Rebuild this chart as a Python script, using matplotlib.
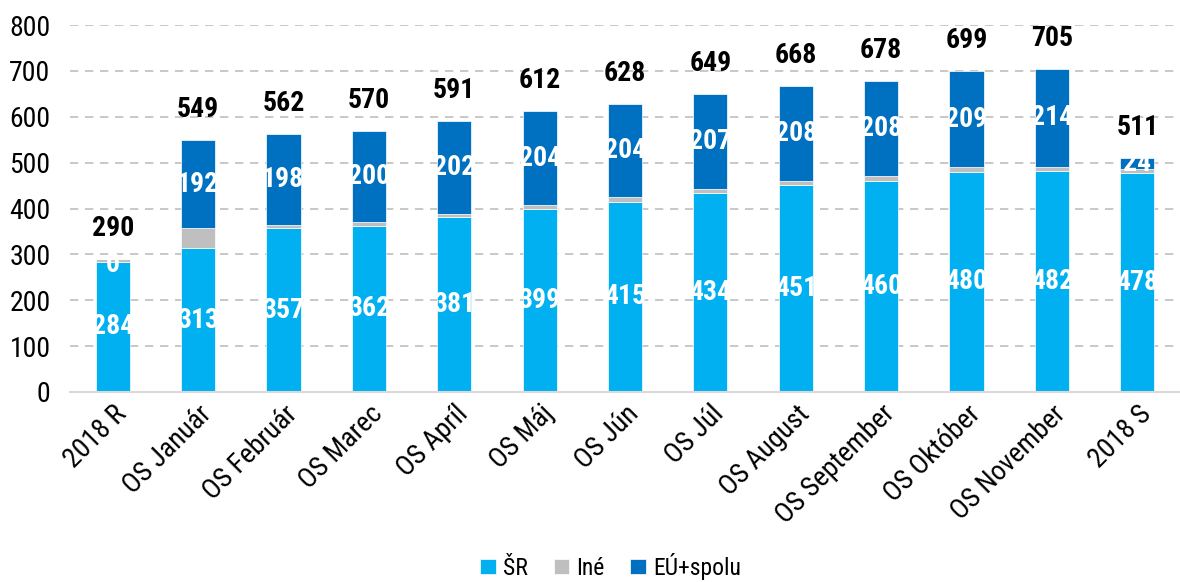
import matplotlib
matplotlib.use("Agg")
import matplotlib.pyplot as plt
from matplotlib import font_manager
import numpy as np

# pick a narrow Arial-like font if one is installed
available = {f.name for f in font_manager.fontManager.ttflist}
preferred = ["Liberation Sans Narrow", "Arial Narrow", "Roboto Condensed", "Archivo Narrow",
             "PT Sans Narrow", "Liberation Sans"]
font = next((f for f in preferred if f in available), "DejaVu Sans")
plt.rcParams['font.family'] = [font, 'DejaVu Sans']

categories = ["2018 R", "OS Január", "OS Február", "OS Marec", "OS Apríl", "OS Máj",
              "OS Jún", "OS Júl", "OS August", "OS September", "OS Október",
              "OS November", "2018 S"]
sr = [284, 313, 357, 362, 381, 399, 415, 434, 451, 460, 480, 482, 478]
ine = [6, 44, 7, 8, 8, 9, 9, 8, 9, 10, 10, 9, 9]
eu = [0, 192, 198, 200, 202, 204, 204, 207, 208, 208, 209, 214, 24]
totals = [290, 549, 562, 570, 591, 612, 628, 649, 668, 678, 699, 705, 511]

c_sr = "#00B0F0"
c_ine = "#BFBFBF"
c_eu = "#0070C0"

fig = plt.figure(figsize=(11.8, 5.82), dpi=100)
ax = fig.add_axes([70 / 1180, 1 - 392 / 582, 1110 / 1180, 367 / 582])

x = np.arange(len(categories))
sr = np.array(sr)
ine = np.array(ine)
eu = np.array(eu)
w = 0.4

ax.bar(x, sr, w, color=c_sr, edgecolor="white", linewidth=0.5, label="ŠR", zorder=2)
ax.bar(x, ine, w, bottom=sr, color=c_ine, edgecolor="white", linewidth=0.5, label="Iné", zorder=2)
ax.bar(x, eu, w, bottom=sr + ine, color=c_eu, edgecolor="white", linewidth=0.5, label="EÚ+spolu", zorder=2)

# data labels
for i in range(len(x)):
    ax.text(x[i], sr[i] / 2, str(sr[i]), ha="center", va="center", color="white",
            fontsize=20, fontweight="bold", zorder=3)
    if eu[i] == 0:
        ypos = sr[i] - 6
    else:
        ypos = sr[i] + ine[i] + eu[i] / 2
    ax.text(x[i], ypos, str(eu[i]), ha="center", va="center", color="white",
            fontsize=20, fontweight="bold", zorder=3)
    ax.text(x[i], totals[i] + 37, str(totals[i]), ha="center", va="bottom", color="black",
            fontsize=20, fontweight="bold", zorder=3)

ax.set_ylim(0, 800)
ax.set_xlim(-0.5, len(x) - 0.5)
ax.set_yticks(range(0, 801, 100))
ax.yaxis.grid(True, linestyle=(0, (5, 4)), color="#BFBFBF", linewidth=1.2, zorder=0)
ax.set_axisbelow(True)
for s in ["top", "right", "left"]:
    ax.spines[s].set_visible(False)
ax.spines["bottom"].set_color("#D9D9D9")
ax.spines["bottom"].set_linewidth(1.5)
ax.tick_params(axis="both", length=0, labelsize=20)
ax.tick_params(axis="y", pad=14)
ax.tick_params(axis="x", pad=6)
ax.set_xticks(x)
ax.set_xticklabels(categories, rotation=45, ha="right", rotation_mode="anchor")

ax.legend(loc="center", bbox_to_anchor=(0.487, -0.475), ncol=3, frameon=False,
          fontsize=17, handlelength=0.65, handleheight=0.65, handletextpad=0.3,
          columnspacing=1.1, borderpad=0.2)

fig.savefig("out.png", dpi=100)
